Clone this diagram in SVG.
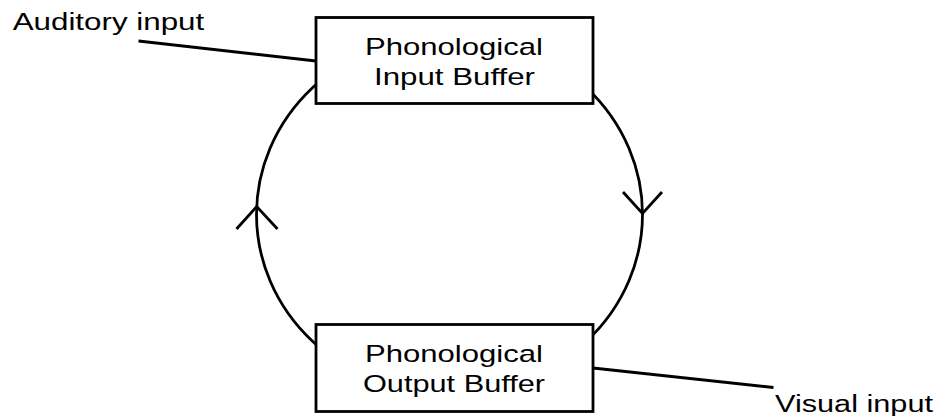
<svg xmlns="http://www.w3.org/2000/svg" width="942" height="416" viewBox="0 0 942 416">
<style>
.ln{fill:none;stroke:#000;stroke-width:2.8;stroke-linejoin:miter}
.box{fill:#fff;stroke:#000;stroke-width:2.8}
.t{font-family:"Liberation Sans",Arial,sans-serif;font-size:24.5px;fill:#000}
.lbl{font-family:"Liberation Sans",Arial,sans-serif;font-size:23.5px;fill:#000}
</style>
<rect width="942" height="416" fill="#fff"/>
<g id="connectors">
<ellipse class="ln" cx="449.5" cy="214.5" rx="193" ry="180"/>
<polyline class="ln" points="236.5,229 256.7,206.5 277.5,229"/>
<polyline class="ln" points="623,192 642.5,213.5 662,192"/>
<line class="ln" stroke-width="3" x1="138.5" y1="41" x2="316" y2="61"/>
<line class="ln" stroke-width="3" x1="593" y1="368" x2="773.5" y2="387.5"/>
</g>
<g id="input-buffer">
<rect class="box" x="316" y="17.5" width="277" height="86"/>
<text class="t" x="365" y="55" textLength="178" lengthAdjust="spacingAndGlyphs">Phonological</text>
<text class="t" x="374" y="85" textLength="161" lengthAdjust="spacingAndGlyphs">Input Buffer</text>
</g>
<g id="output-buffer">
<rect class="box" x="316" y="324.5" width="277" height="87"/>
<text class="t" x="365" y="362" textLength="178" lengthAdjust="spacingAndGlyphs">Phonological</text>
<text class="t" x="363" y="391.5" textLength="182" lengthAdjust="spacingAndGlyphs">Output Buffer</text>
</g>
<g id="auditory-input">
<text class="lbl" x="12.7" y="30" textLength="191.5" lengthAdjust="spacingAndGlyphs">Auditory input</text>
</g>
<g id="visual-input">
<text class="lbl" x="775" y="411.5" textLength="158" lengthAdjust="spacingAndGlyphs">Visual input</text>
</g>
</svg>
